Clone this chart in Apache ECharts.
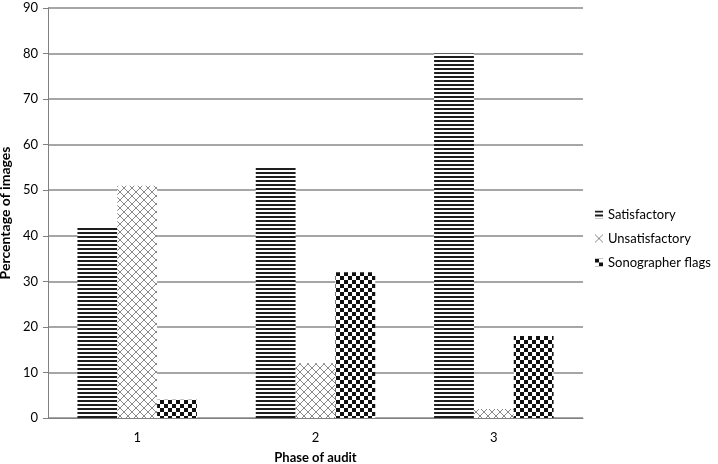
<!DOCTYPE html>
<html>
<head>
<meta charset="utf-8">
<script src="https://cdn.jsdelivr.net/npm/echarts@6/dist/echarts.min.js"></script>
<style>
html, body { margin: 0; padding: 0; background: #fff; }
#chart { width: 718px; height: 464px; }
</style>
</head>
<body>
<div id="chart"></div>
<script>
var phases = ['1', '2', '3'];
var satisfactory = [42, 55, 80];
var unsatisfactory = [51, 12, 2];
var sonographerFlags = [4, 32, 18];

function makePattern(kind) {
    var c = document.createElement('canvas');
    var ctx = c.getContext('2d');
    if (kind === 'stripes') {
        c.width = 4; c.height = 4;
        ctx.fillStyle = '#fff';
        ctx.fillRect(0, 0, 4, 4);
        ctx.fillStyle = '#1e1e1e';
        ctx.fillRect(0, 0, 4, 2);
    } else if (kind === 'diamond') {
        c.width = 8; c.height = 8;
        ctx.fillStyle = '#fff';
        ctx.fillRect(0, 0, 8, 8);
        ctx.strokeStyle = '#8a8a8a';
        ctx.lineWidth = 1;
        ctx.beginPath();
        ctx.moveTo(0, 0); ctx.lineTo(8, 8);
        ctx.moveTo(8, 0); ctx.lineTo(0, 8);
        ctx.stroke();
    } else {
        c.width = 8; c.height = 8;
        ctx.fillStyle = '#fff';
        ctx.fillRect(0, 0, 8, 8);
        ctx.fillStyle = '#111';
        ctx.fillRect(0, 0, 4, 4);
        ctx.fillRect(4, 4, 4, 4);
    }
    return { image: c, repeat: 'repeat' };
}

var myChart = echarts.init(document.getElementById('chart'));
var font = 'Lato, "Open Sans", sans-serif';
var option = {
    animation: false,
    grid: {
        left: 48,
        right: 135,
        top: 8,
        bottom: 46,
        outerBoundsMode: 'none'
    },
    legend: {
        orient: 'vertical',
        left: 590,
        top: 203,
        itemGap: 11,
        icon: 'rect',
        itemWidth: 8,
        itemHeight: 8,
        textStyle: {
            fontFamily: font,
            fontSize: 13,
            color: '#000'
        },
        data: ['Satisfactory', 'Unsatisfactory', 'Sonographer flags']
    },
    xAxis: {
        type: 'category',
        data: phases,
        name: 'Phase of audit',
        nameLocation: 'middle',
        nameGap: 33,
        nameTextStyle: {
            fontFamily: font,
            fontWeight: 'bold',
            fontSize: 13,
            color: '#000'
        },
        axisLine: {
            lineStyle: { color: '#808080', width: 1 }
        },
        axisTick: {
            length: 5,
            lineStyle: { color: '#808080' }
        },
        axisLabel: {
            fontFamily: font,
            fontSize: 13,
            color: '#000',
            margin: 13
        }
    },
    yAxis: {
        type: 'value',
        min: 0,
        max: 90,
        interval: 10,
        name: 'Percentage of images',
        nameLocation: 'middle',
        nameGap: 31,
        nameTextStyle: {
            fontFamily: font,
            fontWeight: 'bold',
            fontSize: 14,
            color: '#000'
        },
        axisLine: {
            show: true,
            lineStyle: { color: '#808080', width: 1 }
        },
        axisTick: {
            show: true,
            length: 5,
            lineStyle: { color: '#808080' }
        },
        axisLabel: {
            fontFamily: font,
            fontSize: 13,
            color: '#000',
            margin: 10
        },
        splitLine: {
            lineStyle: { color: '#888', width: 1.5 }
        }
    },
    series: [
        {
            name: 'Satisfactory',
            type: 'bar',
            data: satisfactory,
            barGap: 0,
            barCategoryGap: '33%',
            itemStyle: { color: makePattern('stripes') }
        },
        {
            name: 'Unsatisfactory',
            type: 'bar',
            data: unsatisfactory,
            itemStyle: { color: makePattern('diamond') }
        },
        {
            name: 'Sonographer flags',
            type: 'bar',
            data: sonographerFlags,
            itemStyle: { color: makePattern('checker') }
        }
    ]
};
myChart.setOption(option);
</script>
</body>
</html>
